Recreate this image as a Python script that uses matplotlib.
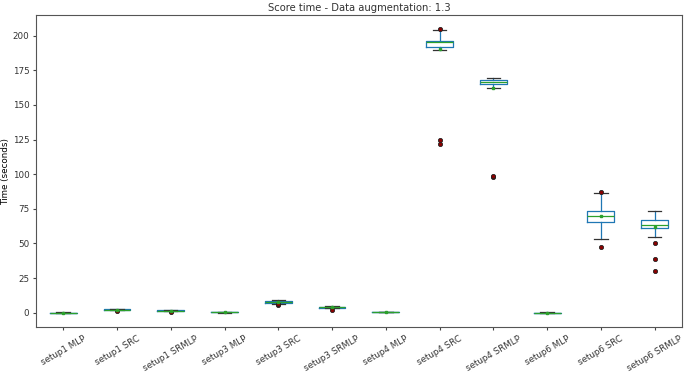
import matplotlib
matplotlib.use("Agg")
from matplotlib import pyplot as plt

# box statistics (seconds)
labels = ["setup1 MLP", "setup1 SRC", "setup1 SRMLP", "setup3 MLP", "setup3 SRC",
          "setup3 SRMLP", "setup4 MLP", "setup4 SRC", "setup4 SRMLP", "setup6 MLP",
          "setup6 SRC", "setup6 SRMLP"]
q1 = [-0.1, 2.1, 1.3, 0.2, 7.3, 3.5, 0.4, 191.5, 165.3, -0.1, 65.2, 61.0]
med = [0.0, 2.3, 1.5, 0.3, 7.8, 3.9, 0.5, 195.5, 166.7, 0.0, 70.0, 63.3]
q3 = [0.1, 2.5, 1.7, 0.4, 8.3, 4.3, 0.6, 196.5, 168.1, 0.1, 73.6, 67.2]
whislo = [-0.3, 1.9, 1.1, 0.0, 6.6, 3.2, 0.2, 189.7, 161.9, -0.3, 53.0, 55.0]
whishi = [0.3, 2.7, 1.9, 0.6, 9.0, 4.6, 0.8, 204.1, 169.6, 0.3, 86.1, 73.4]
means = [0.0, 2.2, 1.5, 0.3, 7.8, 3.8, 0.5, 190.4, 162.0, 0.0, 70.0, 61.9]
fliers = [[], [1.5], [0.8], [], [5.5, 6.2], [2.0], [], [204.5, 125.0, 122.0],
          [98.0, 98.8], [], [87.3, 47.7], [50.6, 39.1, 30.4]]
yticks = [0, 25, 50, 75, 100, 125, 150, 175, 200]

stats = []
for i in range(len(labels)):
    stats.append({"label": labels[i], "q1": q1[i], "med": med[i], "q3": q3[i],
                  "whislo": whislo[i], "whishi": whishi[i], "mean": means[i],
                  "fliers": fliers[i]})

plt.rcParams["text.color"] = "#333333"
plt.rcParams["xtick.color"] = "#444444"
plt.rcParams["ytick.color"] = "#444444"
plt.rcParams["xtick.labelcolor"] = "#333333"
plt.rcParams["ytick.labelcolor"] = "#333333"
plt.rcParams["axes.edgecolor"] = "#555555"

fig, ax = plt.subplots(figsize=(6.85, 3.72), dpi=100)
ax.bxp(stats, showmeans=True, widths=0.5,
       boxprops=dict(color="#1f77b4", linewidth=0.9),
       whiskerprops=dict(color="#1f77b4", linewidth=0.9),
       capprops=dict(color="#333333", linewidth=0.9),
       medianprops=dict(color="#2ca02c", linewidth=0.9),
       meanprops=dict(marker="s", markerfacecolor="#2ca02c", markeredgecolor="#2ca02c", markersize=2),
       flierprops=dict(marker="o", markerfacecolor="#8b0000", markeredgecolor="#222222",
                       markersize=3, markeredgewidth=0.6))

ax.set_yticks(yticks)
ax.set_title("Score time - Data augmentation: 1.3", fontsize=7.2, pad=3)
ax.set_ylabel("Time (seconds)", fontsize=6.3, labelpad=2)
ax.tick_params(axis="both", labelsize=6.3, length=2.5, pad=2.5)
plt.setp(ax.get_xticklabels(), rotation=30, ha="center")

plt.subplots_adjust(left=0.053, right=0.995, top=0.959, bottom=0.12)
plt.savefig("out.png")
